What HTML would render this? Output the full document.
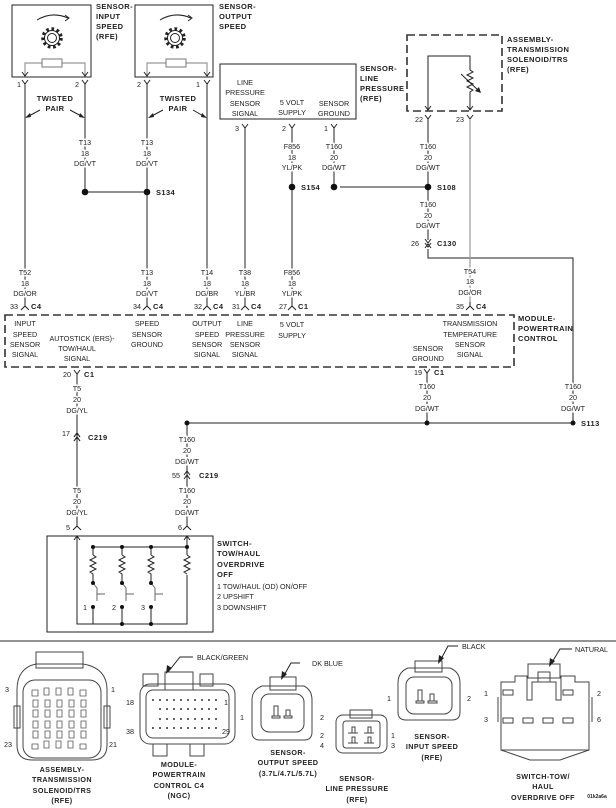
<!DOCTYPE html>
<html><head><meta charset="utf-8"><style>
html,body{margin:0;padding:0;background:#fff}
svg{display:block}
text{font-family:"Liberation Sans Narrow","Liberation Sans",sans-serif;font-size:7.2px;fill:#222}
.c{text-anchor:middle}
.w{paint-order:stroke;stroke:#fff;stroke-width:3px}
.b{font-weight:bold;font-family:"Liberation Sans","DejaVu Sans",sans-serif;font-size:7.5px;letter-spacing:.4px}
.l{stroke:#222;stroke-width:1;fill:none}
.g{stroke:#999;stroke-width:1.2;fill:none}
.d{stroke:#333;stroke-width:1.6;fill:none;stroke-dasharray:8 4}
.k{stroke:#444;stroke-width:1;fill:none}
</style></head><body>
<svg width="616" height="808" viewBox="0 0 616 808" xmlns="http://www.w3.org/2000/svg">
<!-- Sensor input speed -->
<rect x="12" y="5" width="79" height="72" class="l" stroke-width="1.5"/>
<path d="M37 20 Q52 11 68 18" class="l"/><path d="M65 15 L69 18 L65 21" class="l"/>
<circle cx="52" cy="38" r="9" fill="none" stroke="#222" stroke-width="3.5" stroke-dasharray="2.6 2.6"/>
<circle cx="52" cy="38" r="7.5" class="l" fill="#fff"/><circle cx="52" cy="38" r="4.5" class="l"/>
<path d="M25 76 V63 H85 V76" class="g"/><rect x="42" y="59" width="20" height="8" fill="#fff" stroke="#777"/>
<path d="M22 72 L25 76 L28 72 M82 72 L85 76 L88 72" class="l"/>
<text x="96" y="9" class="b">SENSOR-</text><text x="96" y="19" class="b">INPUT</text><text x="96" y="29" class="b">SPEED</text><text x="96" y="39" class="b">(RFE)</text>
<!-- Sensor output speed -->
<rect x="135" y="5" width="78" height="72" class="l" stroke-width="1.5"/>
<path d="M160 20 Q175 11 191 18" class="l"/><path d="M188 15 L192 18 L188 21" class="l"/>
<circle cx="175" cy="38" r="9" fill="none" stroke="#222" stroke-width="3.5" stroke-dasharray="2.6 2.6"/>
<circle cx="175" cy="38" r="7.5" class="l" fill="#fff"/><circle cx="175" cy="38" r="4.5" class="l"/>
<path d="M147 76 V63 H207 V76" class="g"/><rect x="166" y="59" width="20" height="8" fill="#fff" stroke="#777"/>
<path d="M144 72 L147 76 L150 72 M204 72 L207 76 L210 72" class="l"/>
<text x="219" y="9" class="b">SENSOR-</text><text x="219" y="19" class="b">OUTPUT</text><text x="219" y="29" class="b">SPEED</text>

<!-- pins top -->
<g class="l">
<path d="M22 80 L25 84 L28 80 M82 80 L85 84 L88 80 M144 80 L147 84 L150 80 M204 80 L207 84 L210 80"/>
<path d="M242 124 L245 128 L248 124 M289 124 L292 128 L295 124 M331 124 L334 128 L337 124"/>
<path d="M425 115 L428 119 L431 115 M467 115 L470 119 L473 115"/>
</g>
<text x="19" y="87" class="c">1</text><text x="77" y="87" class="c">2</text><text x="139" y="87" class="c">2</text><text x="198" y="87" class="c">1</text>
<text x="237" y="131" class="c">3</text><text x="284" y="131" class="c">2</text><text x="326" y="131" class="c">1</text>
<text x="419" y="122" class="c">22</text><text x="460" y="122" class="c">23</text>

<!-- wires -->
<g class="l">
<path d="M25 84 V302 M85 84 V192 M85 192 H147 M147 84 V302 M207 84 V302"/>
<path d="M245 128 V302 M292 128 V302 M334 128 V187 M340 187 H428 M428 119 V240"/>
<path d="M428 249 V258 H573 V423"/>
<path d="M77 377 V527 M427 377 V423 M187 423 H573 M187 423 V527"/>
</g>
<path d="M470 119 V302" class="g"/>
<!-- twisted pair -->
<text x="55" y="101" class="b c">TWISTED</text><text x="55" y="111" class="b c">PAIR</text>
<text x="178" y="101" class="b c">TWISTED</text><text x="178" y="111" class="b c">PAIR</text>
<g class="l"><path d="M40 110 L27 117 M70 110 L83 117 M163 110 L150 117 M193 110 L205 117"/></g>
<g fill="#222"><path d="M25 118 L30 113 L31 117Z M85 118 L80 113 L79 117Z M148 118 L153 113 L154 117Z M207 118 L202 113 L201 117Z"/></g>

<!-- labels wires -->
<g class="c w">
<text x="85" y="145">T13</text><text x="85" y="156">18</text><text x="85" y="166">DG/VT</text>
<text x="147" y="145">T13</text><text x="147" y="156">18</text><text x="147" y="166">DG/VT</text>
<text x="292" y="149">F856</text><text x="292" y="160">18</text><text x="292" y="170">YL/PK</text>
<text x="334" y="149">T160</text><text x="334" y="160">20</text><text x="334" y="170">DG/WT</text>
<text x="428" y="149">T160</text><text x="428" y="160">20</text><text x="428" y="170">DG/WT</text>
<text x="428" y="207">T160</text><text x="428" y="218">20</text><text x="428" y="228">DG/WT</text>
<text x="25" y="275">T52</text><text x="25" y="286">18</text><text x="25" y="296">DG/OR</text>
<text x="147" y="275">T13</text><text x="147" y="286">18</text><text x="147" y="296">DG/VT</text>
<text x="207" y="275">T14</text><text x="207" y="286">18</text><text x="207" y="296">DG/BR</text>
<text x="245" y="275">T38</text><text x="245" y="286">18</text><text x="245" y="296">YL/BR</text>
<text x="292" y="275">F856</text><text x="292" y="286">18</text><text x="292" y="296">YL/PK</text>
<text x="470" y="274">T54</text><text x="470" y="284">18</text><text x="470" y="295">DG/OR</text>
<text x="77" y="391">T5</text><text x="77" y="402">20</text><text x="77" y="413">DG/YL</text>
<text x="427" y="389">T160</text><text x="427" y="400">20</text><text x="427" y="411">DG/WT</text>
<text x="573" y="389">T160</text><text x="573" y="400">20</text><text x="573" y="411">DG/WT</text>
<text x="187" y="442">T160</text><text x="187" y="453">20</text><text x="187" y="464">DG/WT</text>
<text x="187" y="493">T160</text><text x="187" y="504">20</text><text x="187" y="515">DG/WT</text>
<text x="77" y="493">T5</text><text x="77" y="504">20</text><text x="77" y="515">DG/YL</text>
</g>
<!-- splices -->
<g fill="#111"><circle cx="85" cy="192" r="3.3"/><circle cx="147" cy="192" r="3.3"/><circle cx="292" cy="187" r="3.3"/><circle cx="334" cy="187" r="3.3"/><circle cx="428" cy="187" r="3.3"/>
<circle cx="187" cy="423" r="2.5"/><circle cx="427" cy="423" r="2.5"/><circle cx="573" cy="423" r="2.5"/></g>
<text x="156" y="195" class="b">S134</text><text x="301" y="190" class="b">S154</text><text x="437" y="190" class="b">S108</text><text x="581" y="426" class="b">S113</text>

<!-- line pressure sensor -->
<rect x="220" y="64" width="136" height="55" class="l" stroke-width="1.5"/>
<g class="c"><text x="245" y="85">LINE</text><text x="245" y="95">PRESSURE</text><text x="245" y="106">SENSOR</text><text x="245" y="116">SIGNAL</text>
<text x="292" y="105">5 VOLT</text><text x="292" y="115">SUPPLY</text><text x="334" y="106">SENSOR</text><text x="334" y="116">GROUND</text></g>
<text x="360" y="71" class="b">SENSOR-</text><text x="360" y="81" class="b">LINE</text><text x="360" y="91" class="b">PRESSURE</text><text x="360" y="101" class="b">(RFE)</text>
<!-- solenoid -->
<rect x="407" y="35" width="95" height="76" class="d"/>
<path d="M428 110 V56 H470 V70 l3 2 l-6 3 l6 3 l-6 3 l6 3 l-6 3 l6 3 l-3 2 V110" class="l"/>
<path d="M461 74 L480 92" class="l"/><path d="M481 93 L475 91 L479 87Z" fill="#222"/>
<path d="M425 106 L428 110 L431 106 M467 106 L470 110 L473 106" class="l"/>
<text x="507" y="42" class="b">ASSEMBLY-</text><text x="507" y="52" class="b">TRANSMISSION</text><text x="507" y="62" class="b">SOLENOID/TRS</text><text x="507" y="72" class="b">(RFE)</text>
<!-- C130 -->
<path d="M425 239 L428 243 L431 239 M425 243 L428 247 L431 243 M425 248 L428 244 L431 248" class="l"/>
<text x="415" y="246" class="c">26</text><text x="437" y="246" class="b">C130</text>

<!-- C4 row -->
<g class="l">
<path d="M25 302 V306 M21 310 L25 306 L29 310 M147 302 V306 M143 310 L147 306 L151 310 M207 302 V306 M203 310 L207 306 L211 310 M245 302 V306 M241 310 L245 306 L249 310 M292 302 V306 M288 310 L292 306 L296 310 M470 302 V306 M466 310 L470 306 L474 310"/>
</g>
<text x="14" y="309" class="c">33</text><text x="31" y="309" class="b">C4</text>
<text x="137" y="309" class="c">34</text><text x="153" y="309" class="b">C4</text>
<text x="198" y="309" class="c">32</text><text x="213" y="309" class="b">C4</text>
<text x="236" y="309" class="c">31</text><text x="251" y="309" class="b">C4</text>
<text x="283" y="309" class="c">27</text><text x="298" y="309" class="b">C1</text>
<text x="460" y="309" class="c">35</text><text x="476" y="309" class="b">C4</text>

<!-- PCM -->
<rect x="5" y="315" width="509" height="52" class="d"/>
<g class="c">
<text x="25" y="326">INPUT</text><text x="25" y="337">SPEED</text><text x="25" y="347">SENSOR</text><text x="25" y="357">SIGNAL</text>
<text x="82" y="341">AUTOSTICK (ERS)-</text><text x="77" y="351">TOW/HAUL</text><text x="77" y="361">SIGNAL</text>
<text x="147" y="326">SPEED</text><text x="147" y="337">SENSOR</text><text x="147" y="347">GROUND</text>
<text x="207" y="326">OUTPUT</text><text x="207" y="337">SPEED</text><text x="207" y="347">SENSOR</text><text x="207" y="357">SIGNAL</text>
<text x="245" y="326">LINE</text><text x="245" y="337">PRESSURE</text><text x="245" y="347">SENSOR</text><text x="245" y="357">SIGNAL</text>
<text x="292" y="327">5 VOLT</text><text x="292" y="338">SUPPLY</text>
<text x="428" y="351">SENSOR</text><text x="428" y="361">GROUND</text>
<text x="470" y="326">TRANSMISSION</text><text x="470" y="337">TEMPERATURE</text><text x="470" y="347">SENSOR</text><text x="470" y="357">SIGNAL</text>
</g>
<text x="518" y="321" class="b">MODULE-</text><text x="518" y="331" class="b">POWERTRAIN</text><text x="518" y="341" class="b">CONTROL</text>
<path d="M74 370 L77 374 L80 370 M77 374 V378 M424 369 L427 373 L430 369 M427 373 V377" class="l"/>
<text x="67" y="377" class="c">20</text><text x="84" y="377" class="b">C1</text>
<text x="418" y="375" class="c">19</text><text x="434" y="375" class="b">C1</text>
<!-- C219 -->
<path d="M74 437 L77 433 L80 437 M74 441 L77 437 L80 441" class="l" stroke="#fff" stroke-width="3"/>
<path d="M74 437 L77 433 L80 437 M74 441 L77 437 L80 441" class="l"/>
<text x="66" y="436" class="c">17</text><text x="88" y="440" class="b">C219</text>
<path d="M184 475 L187 471 L190 475 M184 479 L187 475 L190 479" class="l"/>
<text x="176" y="478" class="c">55</text><text x="199" y="478" class="b">C219</text>
<path d="M73 530 L77 526 L81 530 M183 530 L187 526 L191 530" class="l"/>
<text x="68" y="530" class="c">5</text><text x="180" y="530" class="c">6</text>

<!-- switch -->
<rect x="47" y="536" width="166" height="96" class="l" stroke-width="1.5"/>
<path d="M74 540 L77 536 L80 540 M184 540 L187 536 L190 540" class="l"/>
<g class="l">
<path d="M77 536 V624 H187 V575 M187 536 V555 M93 547 H187"/>
<path d="M93 547 V555 M122 547 V555 M151 547 V555"/>
<path d="M93 555 l3 2 l-6 3 l6 3 l-6 3 l6 3 l-6 3 l3 2 V583 M122 555 l3 2 l-6 3 l6 3 l-6 3 l6 3 l-6 3 l3 2 V583 M151 555 l3 2 l-6 3 l6 3 l-6 3 l6 3 l-6 3 l3 2 V583 M187 555 l3 2 l-6 3 l6 3 l-6 3 l6 3 l-6 3 l3 2"/>
<path d="M93 583 L97 588 V601 M97 594 H105 M122 583 L126 588 V601 M126 594 H134 M151 583 L155 588 V601 M155 594 H163" stroke="#666"/>
<path d="M93 607 V624 M122 607 V624 M151 607 V624"/>
</g>
<g fill="#111"><circle cx="93" cy="547" r="2"/><circle cx="122" cy="547" r="2"/><circle cx="151" cy="547" r="2"/><circle cx="187" cy="547" r="2"/>
<circle cx="93" cy="583" r="2"/><circle cx="122" cy="583" r="2"/><circle cx="151" cy="583" r="2"/>
<circle cx="93" cy="607" r="2"/><circle cx="122" cy="607" r="2"/><circle cx="151" cy="607" r="2"/><circle cx="122" cy="624" r="2"/><circle cx="151" cy="624" r="2"/></g>
<text x="85" y="610" class="c">1</text><text x="114" y="610" class="c">2</text><text x="143" y="610" class="c">3</text>
<text x="217" y="546" class="b">SWITCH-</text><text x="217" y="556" class="b">TOW/HAUL</text><text x="217" y="567" class="b">OVERDRIVE</text><text x="217" y="577" class="b">OFF</text>
<text x="217" y="589">1 TOW/HAUL (OD) ON/OFF</text><text x="217" y="599">2 UPSHIFT</text><text x="217" y="610">3 DOWNSHIFT</text>

<line x1="0" y1="641" x2="616" y2="641" stroke="#555" stroke-width="1.2"/>

<!-- solenoid connector -->
<g class="k">
<path d="M36 652 H83 V668 H36Z"/>
<path d="M17 690 Q17 668 36 664 H83 Q107 668 107 690 V745 Q107 760 92 760 H32 Q17 760 17 745Z"/>
<rect x="23" y="680" width="78" height="78" rx="12"/>
<rect x="14" y="706" width="6" height="22"/><rect x="104" y="706" width="6" height="22"/>
</g>
<g fill="none" stroke="#555" stroke-width="0.8">
<path d="M32 690 h6 v6 h-6z M44 688 h5 v7 h-5z M56 688 h5 v7 h-5z M68 688 h5 v7 h-5z M80 690 h6 v6 h-6z"/>
<path d="M33 700 h5 v7 h-5z M45 700 h5 v7 h-5z M57 700 h5 v7 h-5z M69 700 h5 v7 h-5z M81 700 h5 v7 h-5z M33 710 h5 v7 h-5z M45 710 h5 v7 h-5z M57 710 h5 v7 h-5z M69 710 h5 v7 h-5z M81 710 h5 v7 h-5z"/>
<path d="M33 721 h5 v7 h-5z M45 721 h5 v7 h-5z M57 721 h5 v7 h-5z M69 721 h5 v7 h-5z M81 721 h5 v7 h-5z M33 731 h5 v7 h-5z M45 731 h5 v7 h-5z M57 731 h5 v7 h-5z M69 731 h5 v7 h-5z M81 731 h5 v7 h-5z"/>
<path d="M32 744 h6 v5 h-6z M44 741 h5 v7 h-5z M56 741 h5 v7 h-5z M68 741 h5 v7 h-5z M80 744 h6 v5 h-6z"/>
</g>
<text x="7" y="692" class="c">3</text><text x="113" y="692" class="c">1</text><text x="8" y="747" class="c">23</text><text x="113" y="747" class="c">21</text>
<g class="b c"><text x="62" y="772">ASSEMBLY-</text><text x="62" y="782">TRANSMISSION</text><text x="62" y="793">SOLENOID/TRS</text><text x="62" y="803">(RFE)</text></g>
<!-- PCM C4 -->
<g class="k">
<path d="M143 674 H158 V686 H143Z M200 674 H213 V686 H200Z M165 672 H193 V690 H165Z"/>
<rect x="140" y="684" width="95" height="60" rx="10"/>
<rect x="146" y="690" width="83" height="48" rx="7"/>
<path d="M153 744 V756 H167 V744 M190 744 V756 H204 V744"/>
</g>
<g fill="#333">
<circle cx="153" cy="700" r="1"/><circle cx="160" cy="700" r="1"/><circle cx="167" cy="700" r="1"/><circle cx="174" cy="700" r="1"/><circle cx="181" cy="700" r="1"/><circle cx="188" cy="700" r="1"/><circle cx="195" cy="700" r="1"/><circle cx="202" cy="700" r="1"/><circle cx="209" cy="700" r="1"/><circle cx="216" cy="700" r="1"/>
<circle cx="160" cy="709" r="1"/><circle cx="167" cy="709" r="1"/><circle cx="174" cy="709" r="1"/><circle cx="181" cy="709" r="1"/><circle cx="188" cy="709" r="1"/><circle cx="195" cy="709" r="1"/><circle cx="202" cy="709" r="1"/><circle cx="209" cy="709" r="1"/><circle cx="216" cy="709" r="1"/>
<circle cx="160" cy="719" r="1"/><circle cx="167" cy="719" r="1"/><circle cx="174" cy="719" r="1"/><circle cx="181" cy="719" r="1"/><circle cx="188" cy="719" r="1"/><circle cx="195" cy="719" r="1"/><circle cx="202" cy="719" r="1"/><circle cx="209" cy="719" r="1"/><circle cx="216" cy="719" r="1"/>
<circle cx="153" cy="728" r="1"/><circle cx="160" cy="728" r="1"/><circle cx="167" cy="728" r="1"/><circle cx="174" cy="728" r="1"/><circle cx="181" cy="728" r="1"/><circle cx="188" cy="728" r="1"/><circle cx="195" cy="728" r="1"/><circle cx="202" cy="728" r="1"/><circle cx="209" cy="728" r="1"/><circle cx="216" cy="728" r="1"/>
</g>
<path d="M193 657 H180 L168 672" class="l"/><path d="M166 674 L167 665 L172 668Z" fill="#222"/>
<text x="197" y="660">BLACK/GREEN</text>
<text x="130" y="705" class="c">18</text><text x="226" y="705" class="c">1</text><text x="130" y="734" class="c">38</text><text x="226" y="734" class="c">29</text>
<g class="b c"><text x="179" y="767">MODULE-</text><text x="179" y="777">POWERTRAIN</text><text x="179" y="788">CONTROL C4</text><text x="179" y="798">(NGC)</text></g>
<!-- output speed -->
<g class="k">
<path d="M270 677 H296 V690 H270Z"/>
<path d="M262 686 H304 Q312 690 312 700 V732 Q312 740 304 740 H260 Q252 740 252 732 V700 Q252 690 262 686Z"/>
<rect x="261" y="694" width="43" height="38" rx="8"/>
<path d="M272 716 H280 V718 H272Z M278 716 V706 H274 V716 M284 716 H292 V718 H284Z M290 716 V710 H286 V716"/>
</g>
<path d="M300 663 H291 L283 677" class="l"/><path d="M281 680 L282 671 L287 674Z" fill="#222"/>
<text x="312" y="666">DK BLUE</text>
<text x="242" y="720" class="c">1</text><text x="322" y="720" class="c">2</text>
<g class="b c"><text x="288" y="755">SENSOR-</text><text x="288" y="765">OUTPUT SPEED</text><text x="288" y="776">(3.7L/4.7L/5.7L)</text></g>
<!-- line pressure -->
<g class="k">
<path d="M350 710 H372 V718 H350Z"/>
<rect x="336" y="715" width="51" height="38" rx="7"/>
<rect x="343" y="721" width="37" height="27" rx="3"/>
<path d="M348 733 h10 M352 733 v-6 h3 v6 M364 733 h10 M368 733 v-6 h3 v6 M348 743 h10 M352 743 v-6 h3 v6 M364 743 h10 M368 743 v-6 h3 v6"/>
</g>
<text x="322" y="738" class="c">2</text><text x="322" y="748" class="c">4</text><text x="393" y="738" class="c">1</text><text x="393" y="748" class="c">3</text>
<g class="b c"><text x="357" y="781">SENSOR-</text><text x="357" y="791">LINE PRESSURE</text><text x="357" y="802">(RFE)</text></g>
<!-- input speed -->
<g class="k">
<path d="M415 661 H442 V672 H415Z"/>
<path d="M408 668 H450 Q460 672 460 683 V712 Q460 720 452 720 H406 Q398 720 398 712 V683 Q398 672 408 668Z"/>
<rect x="406" y="677" width="46" height="37" rx="8"/>
<path d="M416 701 H424 V703 H416Z M422 701 V690 H418 V701 M428 701 H437 V703 H428Z M434 701 V694 H430 V701"/>
</g>
<path d="M458 646 H448 L440 661" class="l"/><path d="M438 664 L439 655 L444 658Z" fill="#222"/>
<text x="462" y="649">BLACK</text>
<text x="389" y="701" class="c">1</text><text x="469" y="701" class="c">2</text>
<g class="b c"><text x="432" y="739">SENSOR-</text><text x="432" y="749">INPUT SPEED</text><text x="432" y="760">(RFE)</text></g>
<!-- switch connector -->
<g class="k">
<rect x="528" y="664" width="32" height="14"/>
<rect x="538" y="672" width="12" height="10"/>
<path d="M501 682 H515 V676 H527 V700 H532 V682 H556 V700 H561 V676 H575 V682 H589 V750 H501 Z"/>
<path d="M501 750 L530 760 H560 L589 750"/>
<path d="M498 697 V722 M592 697 V722"/>
<path d="M503 690 h10 v5 h-10z M563 690 h10 v5 h-10z M503 718 h10 v5 h-10z M523 718 h10 v5 h-10z M543 718 h10 v5 h-10z M563 718 h10 v5 h-10z"/>
</g>
<path d="M572 649 H560 L551 664" class="l"/><path d="M549 667 L550 658 L555 661Z" fill="#222"/>
<text x="575" y="652">NATURAL</text>
<text x="486" y="696" class="c">1</text><text x="599" y="696" class="c">2</text><text x="486" y="722" class="c">3</text><text x="599" y="722" class="c">6</text>
<g class="b c"><text x="543" y="779">SWITCH-TOW/</text><text x="543" y="789">HAUL</text><text x="543" y="800">OVERDRIVE OFF</text></g>
<text x="597" y="798" class="c" style="font-size:5px;font-weight:bold">01k2a6a</text>
</svg>
</body></html>
